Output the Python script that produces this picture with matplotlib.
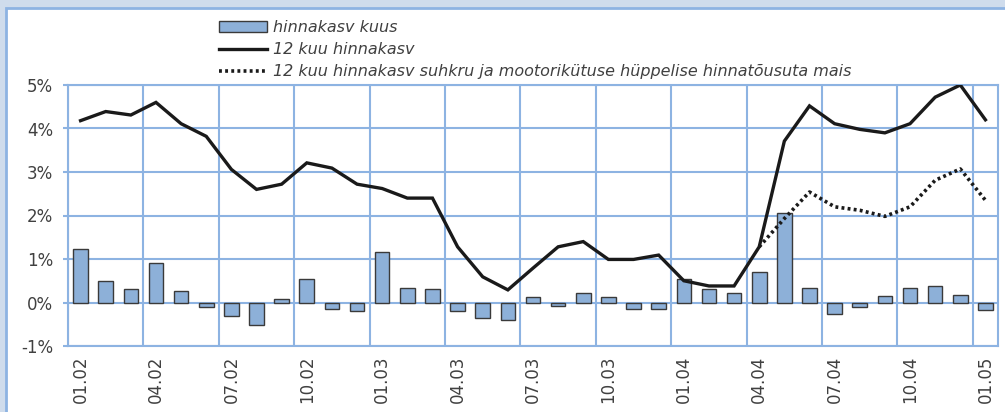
import numpy as np
import matplotlib.pyplot as plt
from matplotlib.patches import Rectangle

# months 01.02 ... 01.05
months = ['01.02', '02.02', '03.02', '04.02', '05.02', '06.02', '07.02', '08.02', '09.02', '10.02', '11.02', '12.02',
          '01.03', '02.03', '03.03', '04.03', '05.03', '06.03', '07.03', '08.03', '09.03', '10.03', '11.03', '12.03',
          '01.04', '02.04', '03.04', '04.04', '05.04', '06.04', '07.04', '08.04', '09.04', '10.04', '11.04', '12.04',
          '01.05']

# monthly change, %
kuus = [1.24, 0.50, 0.30, 0.91, 0.26, -0.11, -0.31, -0.52, 0.09, 0.54, -0.15, -0.19,
        1.15, 0.34, 0.30, -0.19, -0.36, -0.40, 0.13, -0.07, 0.22, 0.13, -0.15, -0.15,
        0.54, 0.30, 0.22, 0.71, 2.05, 0.34, -0.27, -0.11, 0.14, 0.34, 0.38, 0.17,
        -0.18]

# 12 month change, %
aasta = [4.18, 4.39, 4.31, 4.60, 4.11, 3.82, 3.06, 2.60, 2.72, 3.21, 3.09, 2.72,
         2.62, 2.40, 2.40, 1.28, 0.59, 0.29, 0.79, 1.28, 1.40, 0.99, 0.99, 1.09,
         0.50, 0.38, 0.38, 1.28, 3.71, 4.52, 4.11, 3.98, 3.90, 4.11, 4.72, 5.00,
         4.20]

# 12 month change without sugar and fuel jump (from 04.04)
ilma = [np.nan] * 27 + [1.28, 1.93, 2.54, 2.20, 2.12, 1.98, 2.20, 2.81, 3.07, 2.35]

plt.rcParams['font.family'] = ['DejaVu Sans']
grid_col = '#8db3e2'
text_col = '#404040'

fig = plt.figure(figsize=(10.05, 4.12), dpi=100)
fig.patch.set_facecolor('#cfdcec')
fig.patches.append(Rectangle((6 / 1005, -0.1), 1.1, 1.1 - 8 / 412, transform=fig.transFigure,
                             facecolor='white', edgecolor=grid_col, lw=2, zorder=-5))

ax = fig.add_axes([68 / 1005, 66 / 412, 930 / 1005, 261 / 412])
ax.set_facecolor('none')

x = np.arange(len(months))
b = ax.bar(x, kuus, width=0.58, color='#8db0d8', edgecolor='#3a3a3a', linewidth=1,
           label='hinnakasv kuus', zorder=3)
l1, = ax.plot(x, aasta, color='#1a1a1a', lw=2.4, label='12 kuu hinnakasv', zorder=4,
              solid_joinstyle='miter')
l2, = ax.plot(x, ilma, color='#1a1a1a', lw=2.6, linestyle=(0, (0.8, 0.9)),
              label='12 kuu hinnakasv suhkru ja mootorikütuse hüppelise hinnatõusuta mais', zorder=4)

ax.set_xlim(-0.5, len(months) - 0.5)
ax.set_ylim(-1, 5)
ax.set_yticks(range(-1, 6))
ax.set_yticklabels([f'{v}%' for v in range(-1, 6)], fontsize=12, color=text_col)
ax.set_xticks(x[::3])
ax.set_xticklabels(months[::3], rotation=90, fontsize=12, color=text_col)
ax.tick_params(axis='x', length=0, pad=7)
ax.tick_params(axis='y', length=3.6, width=1.5, color=grid_col, pad=7)

# gridlines between categories every 3 months
for gx in np.arange(-0.5, len(months), 3):
    ax.axvline(gx, color=grid_col, lw=1.5, zorder=1)
ax.yaxis.grid(True, color=grid_col, lw=1.5, zorder=1)
ax.set_axisbelow(True)
for s in ax.spines.values():
    s.set_color(grid_col)
    s.set_linewidth(1.5)

fig.legend(handles=[b, l1, l2], loc='upper left', bbox_to_anchor=(211 / 1005, 1 - 12 / 412),
           frameon=False, handlelength=3.0, handletextpad=0.4,
           labelspacing=0.45, borderpad=0, prop={'style': 'oblique', 'size': 11.5})
for t in fig.legends[0].get_texts():
    t.set_color(text_col)

fig.savefig('out.png', dpi=100, facecolor=fig.get_facecolor())
